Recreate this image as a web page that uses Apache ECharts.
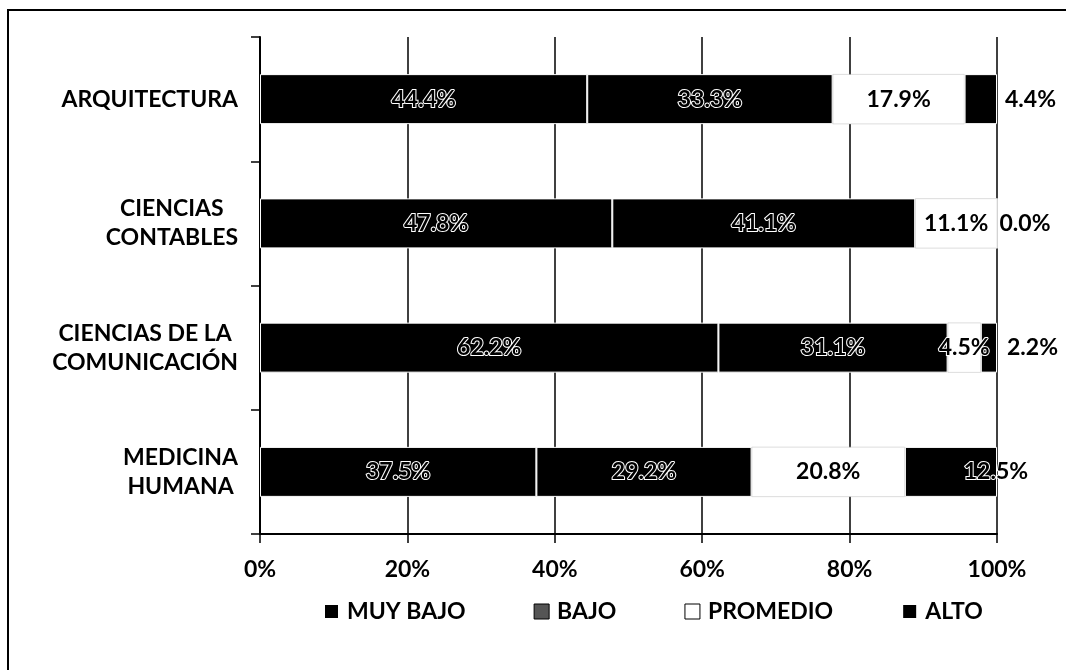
<!DOCTYPE html>
<html>
<head>
<meta charset="utf-8">
<title>Niveles por carrera</title>
<script src="https://cdn.jsdelivr.net/npm/echarts/dist/echarts.min.js"></script>
<style>
  html, body { margin: 0; padding: 0; background: #fff; }
  #main { width: 1066px; height: 670px; }
</style>
</head>
<body>
<div id="main"></div>
<script>
// categorias (de arriba hacia abajo)
const carreras = [
  ['ARQUITECTURA'],
  ['CIENCIAS', 'CONTABLES'],
  ['CIENCIAS DE LA', 'COMUNICACIÓN'],
  ['MEDICINA', 'HUMANA']
]
const niveles = ['MUY BAJO', 'BAJO', 'PROMEDIO', 'ALTO']

// porcentajes por nivel
const muyBajo = [44.4, 47.8, 62.2, 37.5]
const bajo = [33.3, 41.1, 31.1, 29.2]
const promedio = [17.9, 11.1, 4.5, 20.8]
const alto = [4.4, 0.0, 2.2, 12.5]

const ejeX = [0, 20, 40, 60, 80, 100]

const FONT = 'Lato'

const main = echarts.init(document.getElementById('main'))

// estilo de etiqueta: relleno negro con contorno blanco (se ve "hueco" sobre negro)
const etiqueta = {
  show: true,
  position: 'inside',
  fontFamily: FONT,
  fontWeight: 'bold',
  fontSize: 23,
  color: '#000',
  textBorderColor: '#fff',
  textBorderWidth: 2,
  formatter: p => p.value.toFixed(1) + '%'
}

// las etiquetas de ALTO van casi todas fuera de la barra
const altoLabels = [
  { position: 'right', distance: 8 },
  { position: 'right', distance: 2 },
  { position: 'right', distance: 10 },
  { position: 'inside', offset: [45, 0] }
]

const colores = ['#000', '#000', '#fff', '#000']
const valores = [muyBajo, bajo, promedio, alto]

const series = niveles.map((name, i) => ({
  name,
  type: 'bar',
  stack: 'total',
  barWidth: 50,
  itemStyle: {
    color: colores[i],
    borderColor: i === 2 ? '#bbb' : '#fff',
    borderWidth: i === 2 ? 0.5 : 1
  },
  label: etiqueta,
  data: valores[i].map((v, j) => i === 3 ? { value: v, label: altoLabels[j] } : v)
}))

const option = {
  backgroundColor: '#fff',
  animation: false,
  graphic: [{
    type: 'rect',
    shape: { x: 8, y: 10, width: 1100, height: 700 },
    style: { fill: 'none', stroke: '#000', lineWidth: 2 },
    silent: true
  }],
  grid: { left: 260, right: 69, top: 37, bottom: 136 },
  legend: {
    left: 323,
    top: 600,
    padding: 0,
    itemWidth: 15,
    itemHeight: 15,
    itemGap: 68,
    icon: 'rect',
    textStyle: { fontFamily: FONT, fontWeight: 'bold', fontSize: 23, color: '#000', padding: [0, 0, 0, 3] },
    data: [
      { name: 'MUY BAJO', itemStyle: { color: '#000' } },
      { name: 'BAJO', itemStyle: { color: '#555', borderColor: '#000', borderWidth: 1 } },
      { name: 'PROMEDIO', itemStyle: { color: '#fff', borderColor: '#000', borderWidth: 1 } },
      { name: 'ALTO', itemStyle: { color: '#000' } }
    ]
  },
  xAxis: {
    type: 'value',
    min: ejeX[0],
    max: ejeX[ejeX.length - 1],
    interval: ejeX[1] - ejeX[0],
    axisLine: { show: true, lineStyle: { color: '#000', width: 2 } },
    axisTick: { show: true, length: 9, lineStyle: { color: '#000', width: 1.5 } },
    splitLine: { show: true, lineStyle: { color: '#000', width: 1.5 } },
    axisLabel: {
      margin: 24,
      fontFamily: FONT, fontWeight: 'bold', fontSize: 23, color: '#000',
      formatter: '{value}%'
    }
  },
  yAxis: {
    type: 'category',
    inverse: true,
    data: carreras.map(c => c.join('\n')),
    axisLine: { show: true, lineStyle: { color: '#000', width: 2 } },
    axisTick: { show: true, length: 9, lineStyle: { color: '#000', width: 1.5 } },
    axisLabel: {
      margin: 22,
      align: 'right',
      formatter: v => v.split('\n').map(l => '{c|' + l + '}').join('\n'),
      rich: {
        c: { align: 'center', fontFamily: FONT, fontWeight: 'bold', fontSize: 23, color: '#000', lineHeight: 29 }
      }
    }
  },
  series
}

main.setOption(option)
</script>
</body>
</html>
